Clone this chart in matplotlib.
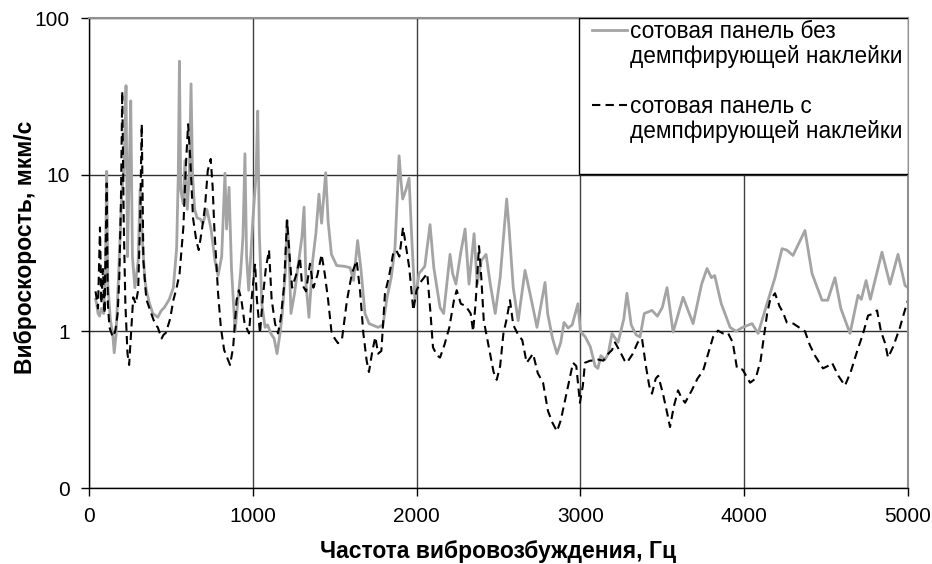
import matplotlib
matplotlib.use("Agg")
import matplotlib.pyplot as plt
from matplotlib.lines import Line2D
from matplotlib.patches import Rectangle
from matplotlib.ticker import FixedLocator, FixedFormatter, NullLocator

plt.rcParams['font.family'] = ['Liberation Sans', 'DejaVu Sans']

# without damping sticker (grey solid)
freq_bare = [40, 47, 55, 65, 75, 90, 100, 108, 115, 130, 145, 154, 165, 180, 200, 215, 226, 235,
             245, 255, 265, 280, 300, 312, 325, 340, 350, 370, 390, 420, 440, 460, 490, 515, 535,
             545, 552, 560, 575, 586, 600, 612, 623, 632, 645, 660, 680, 696, 720, 745, 769, 788,
             810, 830, 840, 855, 870, 892, 905, 925, 940, 952, 962, 975, 1000, 1020, 1030, 1040,
             1055, 1075, 1090, 1110, 1130, 1148, 1165, 1180, 1200, 1209, 1220, 1233, 1255, 1280,
             1300, 1313, 1325, 1343, 1365, 1385, 1404, 1420, 1445, 1460, 1480, 1512, 1560, 1594,
             1615, 1640, 1660, 1685, 1710, 1765, 1795, 1820, 1845, 1868, 1893, 1905, 1915, 1935,
             1954, 1970, 1990, 2015, 2050, 2082, 2105, 2143, 2165, 2204, 2220, 2240, 2270, 2296,
             2320, 2351, 2370, 2395, 2424, 2450, 2480, 2510, 2550, 2565, 2590, 2620, 2662, 2700,
             2735, 2770, 2784, 2800, 2830, 2857, 2880, 2900, 2925, 2950, 2985, 3000, 3030, 3060,
             3090, 3107, 3125, 3150, 3170, 3193, 3230, 3265, 3284, 3310, 3340, 3364, 3390, 3437,
             3470, 3500, 3529, 3566, 3627, 3688, 3740, 3773, 3800, 3820, 3860, 3914, 3950, 3990,
             4048, 4085, 4139, 4188, 4231, 4260, 4298, 4371, 4414, 4475, 4510, 4554, 4590, 4646,
             4695, 4715, 4744, 4770, 4841, 4890, 4939, 4982, 5000]
vel_bare = [1.6, 1.5, 1.3, 1.25, 1.4, 1.3, 2.5, 10.5, 2.0, 1.2, 0.95, 0.73, 0.95, 2.2, 7.5, 12, 37, 3.0,
            10, 29.6, 3.0, 1.9, 2.8, 8, 4, 2.2, 1.83, 1.5, 1.3, 1.23, 1.35, 1.42, 1.6, 1.9, 3.4,
            10, 53, 8, 6.5, 12.3, 6, 10, 38, 10, 6, 5.3, 5.2, 4.9, 6.0, 4.5, 2.83, 2.27,
            3.0, 10.2, 4.5, 8.3, 2.5, 1.0, 1.42, 2.34, 4.0, 13.6, 3.0, 1.83, 5.1, 10, 25.5, 4.2,
            1.5, 1.06, 1.1, 0.97, 0.9, 0.72, 0.95, 1.3, 2.5, 5.1, 3.5, 1.3, 1.75, 2.8,
            4, 6.2, 2.0, 1.23, 2.8, 4.2, 7.5, 4.9, 10.3, 5, 3.1, 2.63, 2.6, 2.55,
            2.11, 3.8, 2.5, 1.3, 1.12, 1.06, 1.1, 1.65, 2.2, 3.4, 13.2, 9, 7.0, 8,
            9.5, 4, 1.58, 2.34, 2.6, 4.8, 2.55, 1.42, 1.3, 3.1, 2.34, 2.0, 3.2, 4.5,
            2.0, 4.2, 2.0, 2.83, 3.1, 2.0, 1.3, 2.2, 7.0, 4.5, 1.9, 1.17, 2.45, 1.6,
            1.06, 1.7, 2.05, 1.3, 0.9, 0.72, 0.85, 1.14, 1.05, 1.1, 1.5, 1.0, 0.92, 0.8,
            0.6, 0.58, 0.7, 0.66, 0.72, 0.97, 0.85, 1.2, 1.75, 1.1, 0.95, 0.92, 1.3, 1.36,
            1.25, 1.42, 1.9, 0.99, 1.65, 1.12, 2.0, 2.52, 2.2, 2.27, 1.5, 1.06, 1.0, 1.06,
            1.12, 0.97, 1.5, 2.2, 3.37, 3.3, 3.05, 4.4, 2.34, 1.58, 1.58, 2.2, 1.4, 0.97,
            1.7, 1.6, 2.11, 1.6, 3.2, 2.0, 3.1, 1.96, 1.9]

# with damping sticker (black dashed)
freq_damp = [40, 55, 67, 75, 85, 95, 108, 115, 125, 145, 160, 175, 185, 195, 203, 212, 222, 235,
             245, 255, 270, 285, 300, 312, 322, 332, 350, 380, 405, 420, 443, 455, 470, 495, 515,
             535, 553, 576, 590, 605, 618, 635, 655, 670, 690, 708, 725, 743, 755, 765, 788, 805,
             825, 861, 880, 901, 915, 930, 950, 977, 990, 1014, 1025, 1044, 1060, 1080, 1099,
             1115, 1136, 1154, 1170, 1190, 1209, 1225, 1240, 1265, 1288, 1300, 1325, 1349, 1370,
             1395, 1420, 1440, 1460, 1480, 1500, 1520, 1545, 1575, 1605, 1634, 1655, 1675, 1695,
             1709, 1730, 1748, 1765, 1785, 1807, 1830, 1856, 1875, 1895, 1917, 1935, 1955, 1980,
             2000, 2030, 2065, 2085, 2100, 2125, 2143, 2170, 2200, 2228, 2245, 2270, 2300, 2330,
             2345, 2360, 2381, 2395, 2410, 2440, 2470, 2489, 2510, 2530, 2550, 2570, 2590, 2620,
             2645, 2672, 2711, 2740, 2772, 2802, 2830, 2857, 2880, 2915, 2955, 2975, 2997, 3015,
             3028, 3060, 3077, 3110, 3140, 3170, 3193, 3211, 3240, 3270, 3284, 3320, 3350, 3376,
             3400, 3420, 3437, 3460, 3475, 3504, 3530, 3547, 3570, 3596, 3615, 3639, 3680, 3715,
             3749, 3780, 3810, 3840, 3870, 3900, 3930, 3956, 3990, 4036, 4070, 4100, 4115, 4140,
             4158, 4188, 4215, 4237, 4260, 4300, 4340, 4371, 4400, 4432, 4481, 4510, 4536, 4575,
             4615, 4650, 4690, 4726, 4756, 4790, 4811, 4835, 4860, 4878, 4910, 4951, 4975, 5000]
vel_damp = [1.8, 1.4, 4.6, 1.5, 2.5, 1.3, 8.8, 1.5, 1.06, 0.92, 1.0, 1.3, 2.2, 6.8, 34, 5, 1.5, 0.72,
            0.61, 0.9, 1.65, 1.5, 1.83, 5, 21, 2.83, 1.6, 1.3, 1.1, 1.06, 0.9, 0.95, 0.98, 1.2, 1.58,
            1.9, 2.34, 4.6, 10.6, 21, 12.8, 5.3, 3.8, 3.3, 4.5, 6.2, 10.6, 12.6, 8.3, 4.6, 1.75, 1.06,
            0.76, 0.61, 0.79, 1.58, 1.83, 1.6, 1.12, 0.97, 1.5, 2.7, 1.6, 0.97, 1.6, 2.55, 3.3,
            1.6, 1.12, 0.97, 1.2, 1.9, 5.1, 3.0, 1.9, 2.3, 2.96, 2.0, 1.8, 2.7, 1.9,
            2.3, 3.1, 2.3, 1.58, 1.0, 0.9, 0.84, 0.9, 1.58, 2.34, 2.83, 1.8, 0.97, 0.65,
            0.55, 0.75, 0.92, 0.72, 0.75, 1.75, 2.2, 3.1, 3.3, 3.0, 4.6, 3.5, 2.55, 1.36,
            1.83, 2.1, 2.34, 1.3, 0.79, 0.7, 0.68, 0.82, 1.06, 1.58, 1.83, 1.5, 1.45, 1.3,
            1.0, 1.5, 3.5, 2.2, 1.17, 0.8, 0.55, 0.49, 0.6, 0.97, 1.2, 1.58, 1.1, 0.95,
            0.88, 0.63, 0.72, 0.54, 0.47, 0.31, 0.26, 0.23, 0.27, 0.4, 0.63, 0.6, 0.35, 0.45,
            0.63, 0.65, 0.65, 0.66, 0.65, 0.72, 0.76, 0.85, 0.75, 0.65, 0.63, 0.72, 0.85, 0.9,
            0.6, 0.45, 0.4, 0.5, 0.52, 0.4, 0.3, 0.245, 0.33, 0.42, 0.38, 0.35, 0.42, 0.5,
            0.56, 0.72, 0.92, 1.01, 0.97, 0.98, 0.85, 0.58, 0.57, 0.47, 0.5, 0.65, 0.84, 1.3,
            1.58, 1.75, 1.45, 1.32, 1.14, 1.12, 1.05, 1.0, 0.82, 0.7, 0.58, 0.6, 0.63, 0.52,
            0.45, 0.55, 0.75, 0.97, 1.26, 1.3, 1.36, 1.0, 0.84, 0.68, 0.8, 1.06, 1.3, 1.58]

y_ticks = [0.1, 1, 10, 100]
y_labels = ['0', '1', '10', '100']
x_ticks = [0, 1000, 2000, 3000, 4000, 5000]

fig = plt.figure(figsize=(9.32, 5.64), dpi=100)
ax = fig.add_axes([89 / 932, 1 - 488 / 564, 819 / 932, 470 / 564])

bare_line, = ax.plot(freq_bare, vel_bare, color='#a4a4a4', lw=2.0)
damp_line, = ax.plot(freq_damp, vel_damp, color='black', lw=1.5, dashes=(4, 2.5))

ax.set_yscale('log')
ax.set_ylim(0.1, 100)
ax.set_xlim(0, 5000)
ax.yaxis.set_major_locator(FixedLocator(y_ticks))
ax.yaxis.set_major_formatter(FixedFormatter(y_labels))
ax.yaxis.set_minor_locator(NullLocator())
ax.set_xticks(x_ticks)

ax.grid(True, which='major', axis='y', color='#303030', lw=1.0)
ax.grid(True, which='major', axis='x', color='#404040', lw=1.0)
ax.set_axisbelow(True)

for side in ['top', 'right']:
    ax.spines[side].set_color('#909090')
    ax.spines[side].set_linewidth(1.5)
for side in ['left', 'bottom']:
    ax.spines[side].set_color('black')
    ax.spines[side].set_linewidth(1.0)

ax.tick_params(direction='out', length=6, width=1, labelsize=15, colors='black', pad=8)

ax.set_xlabel('Частота вибровозбуждения, Гц', fontsize=16.5, fontweight='bold')
ax.set_ylabel('Виброскорость, мкм/с', fontsize=16.5, fontweight='bold')
ax.xaxis.set_label_coords(0.5, -0.11)
ax.yaxis.set_label_coords(-0.064, 0.513)

# legend box fills the upper-right grid cell, as in the original
box_x0 = 0.598
box_y0 = 0.668
ax.add_patch(Rectangle((box_x0, box_y0), 1 - box_x0, 1 - box_y0, transform=ax.transAxes,
                       facecolor='white', edgecolor='black', lw=1.0, zorder=5))

blank = Line2D([], [], color='none')
handles = [bare_line, blank, blank, damp_line, blank]
labels = ['сотовая панель без', 'демпфирующей наклейки', ' ',
          'сотовая панель с', 'демпфирующей наклейки']
leg = ax.legend(handles, labels, loc='upper left', bbox_to_anchor=(box_x0 + 0.013, 1.0),
                borderaxespad=0, fontsize=16.3, frameon=False, handlelength=1.55,
                handletextpad=0.15, labelspacing=0.09, borderpad=0.1)
leg.set_zorder(6)

fig.savefig('out.png', dpi=100)
